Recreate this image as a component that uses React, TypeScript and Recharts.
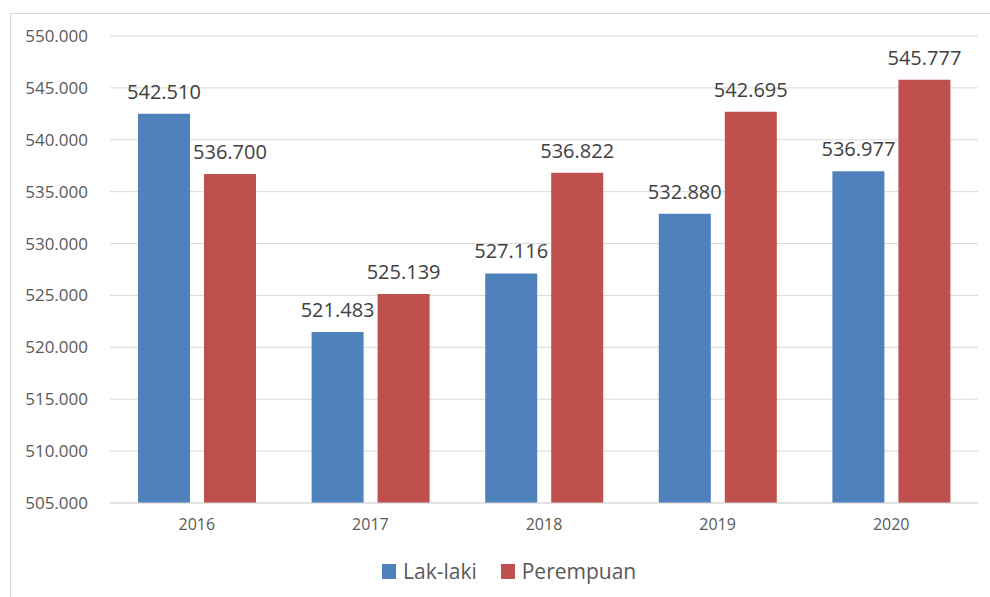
import React from 'react';
import { BarChart, Bar, XAxis, YAxis, CartesianGrid, Legend, LabelList } from 'recharts';

const years = ['2016', '2017', '2018', '2019', '2020'];
const lakiLaki = [542510, 521483, 527116, 532880, 536977];
const perempuan = [536700, 525139, 536822, 542695, 545777];
const yTicks = [505000, 510000, 515000, 520000, 525000, 530000, 535000, 540000, 545000, 550000];

const BLUE = '#4F81BD';
const RED = '#C0504D';
const TEXT = '#595959';
const FONT = '"Open Sans", Lato, sans-serif';

const fmt = (v: number) => v.toLocaleString('de-DE', { minimumFractionDigits: 0 });

const data = years.map((y, i) => ({ year: y, laki: lakiLaki[i], perempuan: perempuan[i] }));

function LegendContent(props: any) {
  const { payload } = props;
  return (
    <div style={{ display: 'flex', marginLeft: 382, paddingTop: 14, fontFamily: FONT, fontSize: 21, color: TEXT, lineHeight: '29px' }}>
      {(payload || []).map((p: any, i: number) => (
        <div key={i} style={{ display: 'flex', alignItems: 'center', marginRight: 24 }}>
          <span style={{ display: 'inline-block', width: 14, height: 15, background: p.color, marginRight: 7 }} />
          <span>{p.value}</span>
        </div>
      ))}
    </div>
  );
}

export default function App() {
  return (
    <div style={{ position: 'absolute', left: 0, top: 0, width: 990, height: 597, background: '#fff' }}>
      <div style={{ position: 'absolute', left: 10, top: 13, width: 980, height: 584, borderTop: '1px solid #d9d9d9', borderLeft: '1px solid #d9d9d9' }} />
      <BarChart
        width={990}
        height={597}
        data={data}
        margin={{ top: 36, right: 12, left: 0, bottom: 4 }}
        barSize={52}
        barGap={14}
      >
        <CartesianGrid vertical={false} stroke="#d9d9d9" />
        <XAxis
          dataKey="year"
          tickLine={false}
          axisLine={{ stroke: '#d9d9d9' }}
          tick={{ fill: TEXT, fontSize: 16, fontFamily: FONT }}
          tickMargin={10}
          height={40}
        />
        <YAxis
          domain={[505000, 550000]}
          ticks={yTicks}
          tickFormatter={fmt}
          tickLine={false}
          axisLine={false}
          tick={{ fill: TEXT, fontSize: 17, fontFamily: FONT }}
          tickMargin={16}
          width={110}
          interval={0}
        />
        <Legend verticalAlign="bottom" content={<LegendContent />} wrapperStyle={{ height: 50 }} />
        <Bar dataKey="laki" name="Lak-laki" fill={BLUE} isAnimationActive={false}>
          <LabelList dataKey="laki" position="top" offset={15} formatter={(v: any) => fmt(Number(v))} style={{ fill: '#404040', fontSize: 20, fontFamily: FONT }} />
        </Bar>
        <Bar dataKey="perempuan" name="Perempuan" fill={RED} isAnimationActive={false}>
          <LabelList dataKey="perempuan" position="top" offset={15} formatter={(v: any) => fmt(Number(v))} style={{ fill: '#404040', fontSize: 20, fontFamily: FONT }} />
        </Bar>
      </BarChart>
    </div>
  );
}
